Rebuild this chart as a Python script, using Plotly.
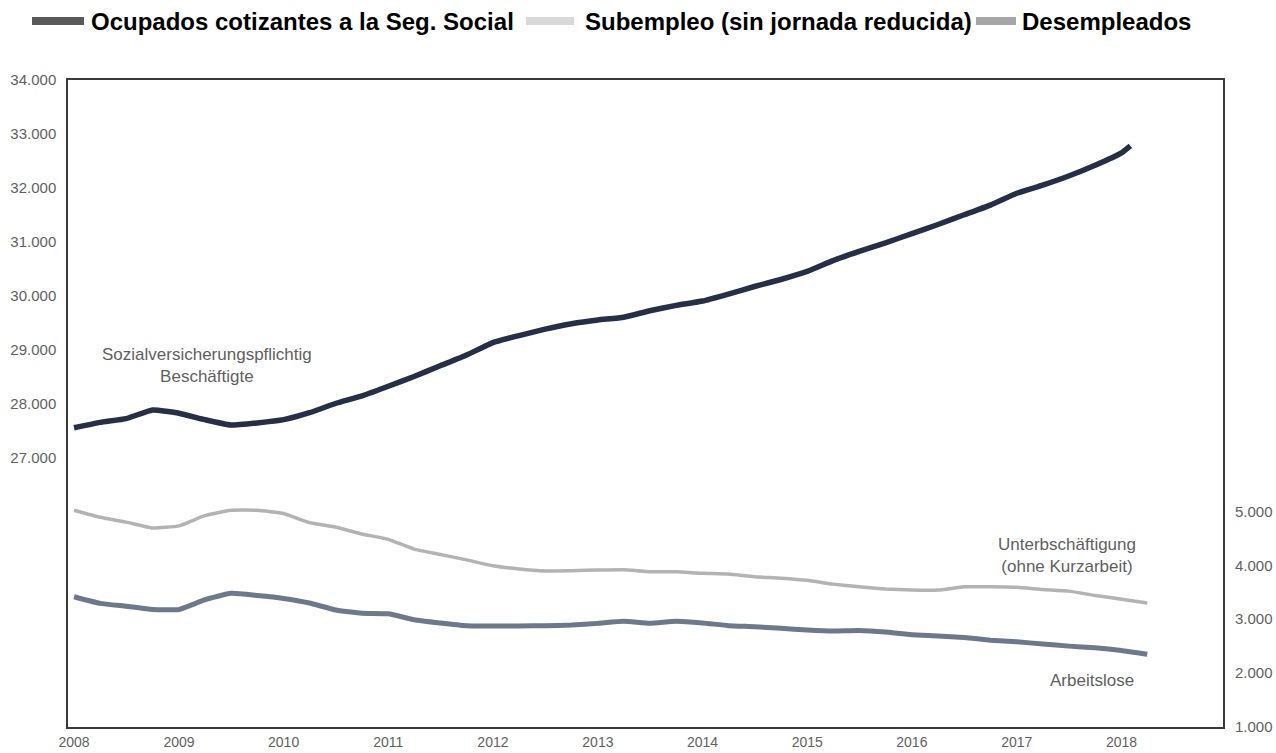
import plotly.graph_objects as go

# ---------------- data ----------------
quarters = [f"{y}-{m:02d}-01" for y in range(2008, 2019) for m in (1, 4, 7, 10)][:42]  # 2008-01 .. 2018-04

empleo_x = quarters[:41] + ["2018-02-01"]
empleo = [27550, 27650, 27720, 27880, 27820, 27700, 27600, 27640, 27700, 27830,
          28000, 28140, 28320, 28500, 28700, 28900, 29130, 29260, 29380, 29480,
          29550, 29600, 29720, 29820, 29900, 30030, 30170, 30300, 30450, 30650,
          30820, 30980, 31150, 31320, 31500, 31680, 31900, 32050, 32220, 32420,
          32650, 32780]

subempleo_x = quarters
subempleo = [5020, 4890, 4800, 4690, 4730, 4920, 5020, 5020, 4960, 4790,
             4710, 4580, 4480, 4300, 4200, 4100, 3990, 3930, 3895, 3900,
             3910, 3915, 3880, 3880, 3850, 3836, 3786, 3760, 3720, 3650,
             3600, 3560, 3540, 3540, 3600, 3600, 3590, 3550, 3520, 3440,
             3370, 3300]

desempleo_x = quarters
desempleo = [3415, 3293, 3240, 3180, 3180, 3360, 3480, 3440, 3385, 3300,
             3170, 3110, 3100, 2990, 2930, 2880, 2872, 2872, 2880, 2890,
             2922, 2960, 2922, 2960, 2930, 2880, 2860, 2830, 2800, 2780,
             2790, 2760, 2710, 2690, 2660, 2610, 2580, 2540, 2500, 2470,
             2420, 2350]

years = list(range(2008, 2019))
year_ticks = [f"{y}-01-01" for y in years]
left_ticks = [27000, 28000, 29000, 30000, 31000, 32000, 33000, 34000]
right_ticks = [1000, 2000, 3000, 4000, 5000]

legend_names = ["Ocupados cotizantes a la Seg. Social",
                "Subempleo (sin jornada reducida)",
                "Desempleados"]
legend_colors = ["#595959", "#d9d9d9", "#a6a6a6"]

def fmt(v):
    return f"{v:,}".replace(",", ".")

# ---------------- figure ----------------
W, H = 1276, 753
L, R, T, B = 68, 53, 80, 26
pw, ph = W - L - R, H - T - B

def px(x):
    return (x - L) / pw

def py(y):
    return (H - B - y) / ph

FONT = "Liberation Sans, Arial, sans-serif"
GREY = "#5f5f5f"

fig = go.Figure()
fig.add_trace(go.Scatter(x=subempleo_x, y=subempleo, yaxis="y2", mode="lines",
                         line=dict(color="#b3b3b3", width=3.5, shape="spline", smoothing=0.4),
                         showlegend=False))
fig.add_trace(go.Scatter(x=desempleo_x, y=desempleo, yaxis="y2", mode="lines",
                         line=dict(color="#6e788c", width=5, shape="spline", smoothing=0.4),
                         showlegend=False))
fig.add_trace(go.Scatter(x=empleo_x, y=empleo, yaxis="y", mode="lines",
                         line=dict(color="#262f47", width=5.5, shape="spline", smoothing=0.4),
                         showlegend=False))

# manual legend
swatches = [(32, 84, 89), (526, 574, 583), (976, 1016, 1020)]
shapes = []
annotations = []
for (x0, x1, tx), name, col in zip(swatches, legend_names, legend_colors):
    shapes.append(dict(type="rect", xref="paper", yref="paper",
                       x0=px(x0), x1=px(x1), y0=py(25), y1=py(17),
                       fillcolor=col, line=dict(width=0)))
    annotations.append(dict(xref="paper", yref="paper", x=px(tx), y=py(21),
                            xanchor="left", yanchor="middle", showarrow=False,
                            text=f"<b>{name}</b>",
                            font=dict(family=FONT, size=24, color="#000000")))

# in-chart labels
annotations += [
    dict(x="2009-04-10", y=28700, xref="x", yref="y", showarrow=False,
         text="Sozialversicherungspflichtig<br>Beschäftigte",
         font=dict(family=FONT, size=17, color=GREY), align="center"),
    dict(x="2017-06-25", y=4190, xref="x", yref="y2", showarrow=False,
         text="Unterbschäftigung<br>(ohne Kurzarbeit)",
         font=dict(family=FONT, size=17, color=GREY), align="center"),
    dict(x="2017-09-20", y=1870, xref="x", yref="y2", showarrow=False,
         text="Arbeitslose",
         font=dict(family=FONT, size=17, color=GREY), align="center"),
]

fig.update_layout(
    width=W, height=H,
    margin=dict(l=L, r=R, t=T, b=B, autoexpand=False),
    paper_bgcolor="white", plot_bgcolor="white",
    font=dict(family=FONT, color=GREY),
    showlegend=False,
    shapes=shapes,
    annotations=annotations,
    xaxis=dict(type="date", range=["2007-12-11", "2018-12-21"], automargin=False,
               tickvals=year_ticks, ticktext=[str(y) for y in years],
               showgrid=False, zeroline=False,
               showline=True, mirror=True, linecolor="#3a3a3a", linewidth=1.5,
               ticks="outside", ticklen=1, tickcolor="rgba(0,0,0,0)",
               tickfont=dict(family=FONT, size=14, color=GREY)),
    yaxis=dict(range=[22000, 34000], tickvals=left_ticks, automargin=False,
               ticktext=[fmt(v) for v in left_ticks],
               showgrid=False, zeroline=False,
               showline=True, mirror=True, linecolor="#3a3a3a", linewidth=1.5,
               ticks="outside", ticklen=7, tickcolor="rgba(0,0,0,0)",
               tickfont=dict(family=FONT, size=15, color=GREY)),
    yaxis2=dict(range=[1000, 13000], tickvals=right_ticks, automargin=False,
                ticktext=[fmt(v) for v in right_ticks],
                overlaying="y", side="right",
                showgrid=False, zeroline=False, showline=False,
                ticks="outside", ticklen=8, tickcolor="rgba(0,0,0,0)",
                tickfont=dict(family=FONT, size=15, color=GREY)),
)

fig.write_html("out.html")
